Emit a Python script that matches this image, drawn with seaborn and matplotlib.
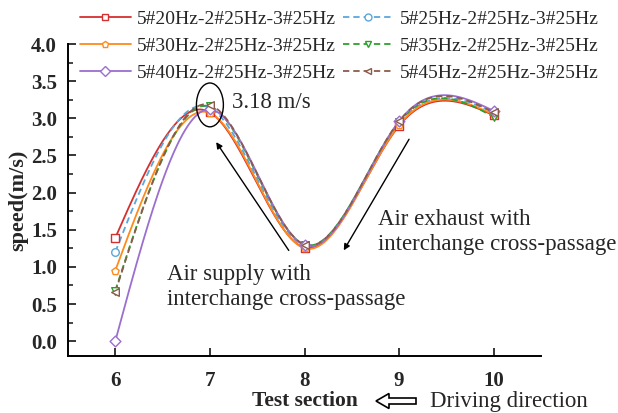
import numpy as np
import pandas as pd
import matplotlib
matplotlib.use("Agg")
import matplotlib.pyplot as plt
from matplotlib.lines import Line2D
from matplotlib.patches import Ellipse
import seaborn as sns

# ---------------- data ----------------
sections = [6, 7, 8, 9, 10]
labels = ["5#20Hz-2#25Hz-3#25Hz", "5#25Hz-2#25Hz-3#25Hz", "5#30Hz-2#25Hz-3#25Hz",
          "5#35Hz-2#25Hz-3#25Hz", "5#40Hz-2#25Hz-3#25Hz", "5#45Hz-2#25Hz-3#25Hz"]
s20 = [1.39, 3.08, 1.26, 2.90, 3.04]
s25 = [1.20, 3.14, 1.29, 2.93, 3.08]
s30 = [0.95, 3.07, 1.25, 2.91, 3.05]
s35 = [0.68, 3.16, 1.30, 2.95, 3.02]
s40 = [0.00, 3.12, 1.29, 2.96, 3.10]
s45 = [0.66, 3.18, 1.30, 2.96, 3.08]
series = [s20, s25, s30, s35, s40, s45]

colors = ["#d62f2f", "#5aa7dc", "#ff8a1c", "#2ca02c", "#9b6fcf", "#8c5a4b"]
markers = ["s", "o", "p", "v", "D", "<"]
dashed = [False, True, False, True, False, True]


def natural_spline(x, y, n=300):
    x = np.asarray(x, float)
    y = np.asarray(y, float)
    m = len(x)
    h = np.diff(x)
    A = np.zeros((m, m))
    b = np.zeros(m)
    A[0, 0] = 1
    A[-1, -1] = 1
    for i in range(1, m - 1):
        A[i, i - 1] = h[i - 1]
        A[i, i] = 2 * (h[i - 1] + h[i])
        A[i, i + 1] = h[i]
        b[i] = 3 * ((y[i + 1] - y[i]) / h[i] - (y[i] - y[i - 1]) / h[i - 1])
    c = np.linalg.solve(A, b)
    xs = np.linspace(x[0], x[-1], n)
    ys = np.empty_like(xs)
    for k, xv in enumerate(xs):
        i = min(np.searchsorted(x, xv, side="right") - 1, m - 2)
        dx = xv - x[i]
        bi = (y[i + 1] - y[i]) / h[i] - h[i] * (2 * c[i] + c[i + 1]) / 3
        di = (c[i + 1] - c[i]) / (3 * h[i])
        ys[k] = y[i] + bi * dx + c[i] * dx ** 2 + di * dx ** 3
    return xs, ys


sns.set_theme(style="ticks")
plt.rcParams["font.family"] = ["Liberation Serif", "DejaVu Sans"]

fig = plt.figure(figsize=(6.18, 4.13), dpi=100)
ax = fig.add_axes([68 / 618, 1 - 356 / 413, (541 - 68) / 618, (356 - 44) / 413])

handles = []
for lab, vals, col, mk, dsh in zip(labels, series, colors, markers, dashed):
    xs, ys = natural_spline(sections, vals)
    curve = pd.DataFrame({"x": xs, "y": ys})
    sns.lineplot(data=curve, x="x", y="y", ax=ax, color=col, lw=1.3,
                 linestyle=(0, (3.5, 2.2)) if dsh else "-", zorder=2)
    pts = pd.DataFrame({"x": sections, "y": vals})
    sns.scatterplot(data=pts, x="x", y="y", ax=ax, marker=mk, s=30,
                    facecolor="white", edgecolor=col, linewidth=1.0, zorder=3)
    handles.append(Line2D([0], [0], color=col, lw=1.3,
                          linestyle=(0, (3.5, 2.2)) if dsh else "-",
                          marker=mk, markersize=5, markerfacecolor="white",
                          markeredgecolor=col, markeredgewidth=1.0))

ax.set_xlim(5.5, 10.5)
ax.set_ylim(-0.2, 4.0)
ax.set_xticks(sections)
ax.set_yticks(np.arange(0, 4.01, 0.5))
ax.set_yticks(np.arange(0.25, 4.0, 0.5), minor=True)
ax.set_yticklabels([f"{v:.1f}" for v in np.arange(0, 4.01, 0.5)])
ax.tick_params(axis="both", which="major", direction="in", length=6, width=1.3,
               labelsize=15, pad=8)
ax.tick_params(axis="x", pad=11)
ax.tick_params(axis="y", which="minor", direction="in", length=3.5, width=1.2)
for t in ax.get_xticklabels() + ax.get_yticklabels():
    t.set_fontweight("bold")
sns.despine(ax=ax)
for s in ["left", "bottom"]:
    ax.spines[s].set_linewidth(1.4)
    ax.spines[s].set_color("black")

ax.set_ylabel("speed(m/s)", fontsize=16, fontweight="bold")
ax.yaxis.set_label_coords(-0.085, 0.5)
ax.set_xlabel("Test section", fontsize=15.5, fontweight="bold")
ax.xaxis.set_label_coords(0.5, -(401 - 356) / 312)
ax.xaxis.label.set_va("center")

# annotations
ax.add_patch(Ellipse((7.0, 3.18), 0.285, 0.59, fill=False, ec="black", lw=1.0, zorder=4))
ax.text(7.23, 3.21, "3.18 m/s", fontsize=16.5, va="center", ha="left")
ax.annotate("", xy=(7.05, 2.71), xytext=(7.85, 1.19),
            arrowprops=dict(arrowstyle="-|>", color="black", lw=1.0, mutation_scale=9))
ax.text(6.55, 0.73, "Air supply with\ninterchange cross-passage", fontsize=16.5,
        va="center", ha="left", linespacing=1.2)
ax.annotate("", xy=(8.40, 1.19), xytext=(9.12, 2.75),
            arrowprops=dict(arrowstyle="-|>", color="black", lw=1.0, mutation_scale=9))
ax.text(8.78, 1.47, "Air exhaust with\ninterchange cross-passage", fontsize=16.5,
        va="center", ha="left", linespacing=1.2)

# driving direction
fig.patches.append(matplotlib.patches.FancyArrow(
    416 / 618, 12 / 413, -40 / 618, 0, width=6 / 413, head_width=15 / 413,
    head_length=13 / 618, length_includes_head=True, transform=fig.transFigure,
    fc="white", ec="black", lw=1.2, figure=fig))
fig.text(430 / 618, 12 / 413, "Driving direction", fontsize=16.5, va="center", ha="left")

order = [0, 2, 4, 1, 3, 5]
fig.legend([handles[i] for i in order], [labels[i] for i in order], ncol=2,
           loc="upper left", bbox_to_anchor=(80 / 618, 1 - 10 / 413), frameon=False,
           fontsize=14, handlelength=2.6, handletextpad=0.3, columnspacing=0.4,
           labelspacing=0.48, borderpad=0, borderaxespad=0)

fig.savefig("out.png", dpi=100)
